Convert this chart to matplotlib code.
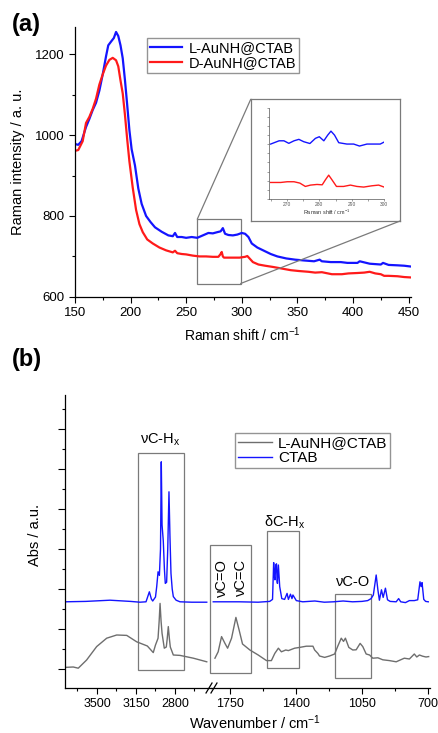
import matplotlib
matplotlib.use('Agg')
import matplotlib.pyplot as plt
from matplotlib.patches import Rectangle, ConnectionPatch
from matplotlib.ticker import MultipleLocator, NullFormatter

plt.rcParams['font.family'] = ['Liberation Sans', 'DejaVu Sans']
plt.rcParams['mathtext.default'] = 'regular'
plt.rcParams['font.size'] = 9

# ---- (a) Raman spectra ----
shift_L = [150, 153, 156, 160, 163, 166, 169, 172, 175, 178, 180, 183, 185, 187, 189, 191,
           193, 195, 197, 199, 201, 204, 207, 210, 214, 218, 222, 228, 234, 238, 240, 242,
           246, 250, 255, 260, 265, 270, 274, 278, 281, 283, 285, 288, 292, 296, 300, 303,
           306, 309, 314, 320, 326, 332, 340, 348, 356, 365, 370, 372, 380, 389, 395, 404,
           406, 415, 425, 427, 432, 440, 446, 452]
int_L = [978, 976, 985, 1020, 1040, 1062, 1080, 1110, 1150, 1195, 1222, 1233, 1240, 1255, 1245, 1222,
         1190, 1136, 1075, 1012, 965, 925, 868, 830, 800, 785, 772, 761, 752, 750, 758, 748,
         748, 746, 748, 746, 752, 758, 757, 760, 762, 770, 756, 753, 752, 754, 758, 756,
         748, 732, 722, 714, 706, 700, 695, 692, 690, 688, 692, 688, 686, 686, 684, 684,
         688, 682, 680, 684, 679, 678, 677, 675]

shift_D = [150, 153, 157, 160, 163, 166, 169, 172, 175, 178, 181, 184, 187, 189, 191, 193,
           195, 197, 199, 202, 205, 208, 211, 215, 220, 226, 232, 238, 240, 242, 246, 250,
           256, 262, 268, 274, 279, 281, 282, 283, 284, 288, 292, 298, 303, 305, 307, 310,
           315, 321, 328, 336, 344, 351, 360, 366, 372, 381, 390, 396, 404, 410, 415, 420,
           425, 428, 432, 440, 446, 452]
int_D = [961, 963, 985, 1030, 1045, 1065, 1090, 1125, 1150, 1172, 1186, 1191, 1185, 1170, 1135, 1103,
         1050, 990, 935, 870, 815, 780, 760, 742, 732, 722, 715, 710, 714, 708, 706, 705,
         702, 700, 700, 699, 699, 706, 711, 700, 697, 697, 697, 697, 699, 701, 695, 686,
         680, 677, 674, 670, 666, 664, 662, 660, 661, 656, 656, 658, 659, 660, 662, 658,
         656, 652, 652, 651, 649, 648]

# inset (zoomed 265-300 cm-1, arbitrary offset units)
ins_shift_L = [265, 267.6, 269.1, 270.6, 272.2, 273.7, 275.2, 277.1, 278.8, 280, 281.4, 282.6,
               283.6, 284.7, 286, 288.5, 290.6, 292.4, 294.7, 296.7, 298.8, 300]
ins_L = [6.04, 6.4, 6.4, 6.12, 6.4, 6.56, 6.3, 6.1, 6.67, 6.85, 6.4, 7.03,
         7.47, 7.03, 6.19, 6.04, 6.04, 5.82, 6.04, 6.04, 6.04, 6.26]
ins_shift_D = [265, 268.1, 270.1, 272.2, 274, 275.7, 277.3, 279.3, 280.9, 281.9, 282.9, 283.9,
               285.3, 287.5, 289.6, 291.6, 293.7, 296.2, 298.3, 300]
ins_D = [1.79, 1.79, 1.87, 1.87, 1.72, 1.35, 1.5, 1.57, 1.53, 2.09, 2.6, 2.09,
         1.35, 1.35, 1.5, 1.35, 1.28, 1.42, 1.5, 1.28]

# ---- (b) IR spectra, high and low wavenumber windows ----
wn_hi_ctab = [3787, 3600, 3383, 3200, 3114, 3060, 3030, 3012, 3000, 2975, 2964, 2952, 2940, 2930,
              2923, 2916, 2905, 2895, 2887, 2875, 2865, 2854, 2845, 2836, 2825, 2815, 2790, 2755,
              2650, 2515]
abs_hi_ctab = [1.68, 1.69, 1.72, 1.69, 1.67, 1.68, 1.93, 1.75, 1.70, 1.80, 2.06, 2.43, 2.34, 3.0,
               5.18, 3.6, 3.2, 2.5, 2.14, 2.17, 3.0, 4.43, 3.3, 2.39, 2.0, 1.81, 1.72, 1.68,
               1.67, 1.67]
wn_hi_np = [3787, 3713, 3668, 3593, 3503, 3413, 3323, 3233, 3144, 3048, 2995, 2975, 2964, 2952,
            2942, 2934, 2925, 2916, 2896, 2878, 2870, 2860, 2850, 2842, 2815, 2755, 2635, 2515]
abs_hi_np = [0.04, 0.05, 0.02, 0.225, 0.56, 0.77, 0.85, 0.84, 0.68, 0.575, 0.41, 0.6, 0.68, 0.77,
             1.2, 1.64, 1.2, 0.89, 0.52, 0.55, 0.75, 1.06, 0.75, 0.55, 0.35, 0.34, 0.27, 0.18]

wn_lo_ctab = [1838, 1700, 1600, 1539, 1524, 1518, 1514, 1511, 1507, 1503, 1500, 1498, 1493, 1486,
              1475, 1460, 1447, 1440, 1429, 1421, 1416, 1398, 1364, 1300, 1250, 1200, 1150, 1100,
              1050, 1020, 1002, 990, 975, 966, 958, 947, 938, 926, 915, 901, 869, 856,
              845, 820, 799, 773, 755, 743, 737, 732, 723, 713, 699]
abs_lo_ctab = [1.68, 1.68, 1.67, 1.69, 1.74, 2.66, 2.3, 2.23, 2.6, 2.63, 2.2, 2.14, 2.6, 2.06,
               1.76, 1.74, 1.89, 1.74, 1.87, 1.76, 1.85, 1.71, 1.68, 1.70, 1.67, 1.68, 1.70, 1.68,
               1.69, 1.71, 1.76, 1.85, 2.35, 1.98, 1.72, 1.98, 1.79, 2.02, 1.73, 1.69, 1.68, 1.76,
               1.68, 1.66, 1.71, 1.71, 1.73, 2.18, 2.06, 2.16, 1.74, 1.69, 1.68]
wn_lo_np = [1829, 1812, 1794, 1776, 1762, 1741, 1718, 1701, 1683, 1644, 1600, 1556, 1530, 1512,
            1493, 1477, 1454, 1440, 1407, 1380, 1345, 1310, 1301, 1284, 1275, 1248, 1222, 1195,
            1178, 1160, 1148, 1138, 1120, 1099, 1081, 1060, 1046, 1028, 1010, 993, 966, 940,
            905, 869, 826, 799, 773, 760, 746, 729, 711, 697]
abs_lo_np = [0.27, 0.43, 0.81, 0.64, 0.52, 0.77, 1.29, 0.975, 0.625, 0.475, 0.35, 0.21, 0.21, 0.39,
             0.52, 0.43, 0.475, 0.46, 0.52, 0.54, 0.57, 0.57, 0.475, 0.39, 0.325, 0.29, 0.325, 0.375,
             0.575, 0.77, 0.69, 0.77, 0.54, 0.475, 0.48, 0.64, 0.56, 0.375, 0.35, 0.27, 0.28, 0.23,
             0.21, 0.18, 0.27, 0.25, 0.375, 0.3, 0.35, 0.32, 0.3, 0.31]

BLUE = '#1414ff'
RED = '#ff1a1a'
GREY = '#6e6e6e'
BOX = '#7a7a7a'

fig = plt.figure(figsize=(4.38, 7.33), dpi=100)

def style_ticks(ax, size=9.5):
    ax.tick_params(which='major', direction='out', length=4, width=0.8, labelsize=size)
    ax.tick_params(which='minor', direction='out', length=2.5, width=0.8)
    for s in ax.spines.values():
        s.set_linewidth(0.9)

# ---------------- panel (a) ----------------
ax_a = fig.add_axes([0.171, 0.595, 0.767, 0.368])
ax_a.plot(shift_L, int_L, color=BLUE, lw=1.6, label='L-AuNH@CTAB')
ax_a.plot(shift_D, int_D, color=RED, lw=1.6, label='D-AuNH@CTAB')
ax_a.set_xlim(150, 452)
ax_a.set_ylim(600, 1267)
ax_a.xaxis.set_major_locator(MultipleLocator(50))
ax_a.xaxis.set_minor_locator(MultipleLocator(25))
ax_a.yaxis.set_major_locator(MultipleLocator(200))
ax_a.yaxis.set_minor_locator(MultipleLocator(100))
ax_a.spines['top'].set_visible(False)
ax_a.spines['right'].set_visible(False)
style_ticks(ax_a)
ax_a.set_xlabel('Raman shift / cm$^{-1}$', fontsize=10)
ax_a.set_ylabel('Raman intensity / a. u.', fontsize=10.5)
ax_a.xaxis.set_label_coords(0.5, -0.105)
ax_a.yaxis.set_label_coords(-0.15, 0.5)
ax_a.legend(loc='upper left', bbox_to_anchor=(0.216, 0.96), fontsize=10.5, frameon=True,
            fancybox=False, edgecolor=BOX, handlelength=2.2, borderpad=0.2,
            labelspacing=0.1, handletextpad=0.4, borderaxespad=0)

# zoom rectangle
zx0, zx1, zy0, zy1 = 260, 299, 633, 792
ax_a.add_patch(Rectangle((zx0, zy0), zx1 - zx0, zy1 - zy0, fill=False, ec=BOX, lw=0.9))

# inset frame and inset axes
ax_box = fig.add_axes([0.5724, 0.6985, 0.341, 0.166])
ax_box.set_xticks([])
ax_box.set_yticks([])
for s in ax_box.spines.values():
    s.set_edgecolor(BOX)
    s.set_linewidth(0.9)

ax_in = fig.add_axes([0.615, 0.729, 0.262, 0.1233])
ax_in.plot(ins_shift_L, ins_L, color=BLUE, lw=1.0)
ax_in.plot(ins_shift_D, ins_D, color=RED, lw=1.0)
ax_in.set_xlim(264.6, 300)
ax_in.set_ylim(0, 10)
ax_in.xaxis.set_major_locator(MultipleLocator(10))
ax_in.xaxis.set_minor_locator(MultipleLocator(5))
ax_in.yaxis.set_major_locator(MultipleLocator(2))
ax_in.yaxis.set_minor_locator(MultipleLocator(1))
ax_in.yaxis.set_major_formatter(NullFormatter())
ax_in.spines['top'].set_visible(False)
ax_in.spines['right'].set_visible(False)
for s in ax_in.spines.values():
    s.set_linewidth(0.5)
    s.set_color('#555555')
ax_in.tick_params(which='both', direction='out', length=1.2, width=0.4, labelsize=3.5,
                  pad=1, colors='#555555')
ax_in.set_xlabel('Raman shift / cm$^{-1}$', fontsize=4, labelpad=1, color='#333333')

for xa, xb in [((zx0, zy1), (0, 1)), ((zx1, zy0), (1, 0))]:
    con = ConnectionPatch(xyA=xa, coordsA=ax_a.transData, xyB=xb, coordsB=ax_box.transAxes,
                          color=BOX, lw=0.9)
    fig.add_artist(con)

fig.text(0.027, 0.966, '(a)', fontsize=17, fontweight='bold', va='center')

# ---------------- panel (b) ----------------
ax_l = fig.add_axes([0.1484, 0.0614, 0.3333, 0.3997])
ax_r = fig.add_axes([0.4817, 0.0614, 0.5, 0.3997])

ax_l.plot(wn_hi_np, abs_hi_np, color=GREY, lw=1.0)
ax_l.plot(wn_hi_ctab, abs_hi_ctab, color=BLUE, lw=1.0)
ax_r.plot(wn_lo_np, abs_lo_np, color=GREY, lw=1.0, label='L-AuNH@CTAB')
ax_r.plot(wn_lo_ctab, abs_lo_ctab, color=BLUE, lw=1.0, label='CTAB')

ax_l.set_xlim(3787, 2477)
ax_r.set_xlim(1850, 690)
for ax in (ax_l, ax_r):
    ax.set_ylim(-0.475, 6.85)
    ax.spines['top'].set_visible(False)
    ax.spines['right'].set_visible(False)
    ax.patch.set_alpha(0)
    style_ticks(ax, size=9)
    ax.xaxis.set_major_locator(MultipleLocator(350))
    ax.xaxis.set_minor_locator(MultipleLocator(175))
ax_l.yaxis.set_major_locator(MultipleLocator(1))
ax_l.yaxis.set_minor_locator(MultipleLocator(0.5))
ax_l.yaxis.set_major_formatter(NullFormatter())
ax_l.tick_params(axis='y', which='major', length=5)
ax_r.spines['left'].set_visible(False)
ax_r.set_yticks([])
ax_l.set_xticks([3500, 3150, 2800])
ax_r.set_xticks([1750, 1400, 1050, 700])

ax_l.set_ylabel('Abs / a.u.', fontsize=10.5)
ax_l.yaxis.set_label_coords(-0.16, 0.522)
fig.text(0.582, 0.002, 'Wavenumber / cm$^{-1}$', fontsize=10.5, ha='center', va='bottom')

# axis break marks
for off in (0.0, 0.034):
    ax_l.plot([0.966 + off, 1.007 + off], [-0.017, 0.017], color='k', lw=0.9,
              transform=ax_l.transAxes, clip_on=False)

# band boxes and labels
ax_l.add_patch(Rectangle((3129, -0.025), 2716 - 3129, 5.39 + 0.025, fill=False, ec=BOX, lw=0.9))
ax_l.text(2934, 5.72, 'νC-H$_x$', fontsize=10.5, ha='center', va='center')
ax_r.add_patch(Rectangle((1855, -0.09), 1639 - 1855, 3.1 + 0.09, fill=False, ec=BOX, lw=0.9,
                         clip_on=False))
ax_r.text(1792, 2.28, 'νC=O', fontsize=10.5, rotation=90, ha='center', va='center')
ax_r.text(1692, 2.28, 'νC=C', fontsize=10.5, rotation=90, ha='center', va='center')
ax_r.add_patch(Rectangle((1551, 0.02), 1385 - 1551, 3.46 - 0.02, fill=False, ec=BOX, lw=0.9))
ax_r.text(1460, 3.66, 'δC-H$_x$', fontsize=10.5, ha='center', va='center')
ax_r.add_patch(Rectangle((1192, -0.23), 1001 - 1192, 1.875 + 0.23, fill=False, ec=BOX, lw=0.9))
ax_r.text(1098, 2.17, 'νC-O', fontsize=10.5, ha='center', va='center')

ax_r.legend(loc='upper left', bbox_to_anchor=(0.11, 0.871), fontsize=11, frameon=True,
            fancybox=False, edgecolor=BOX, handlelength=2.2, borderpad=0.2,
            labelspacing=0.1, handletextpad=0.4, borderaxespad=0)

fig.text(0.027, 0.509, '(b)', fontsize=17, fontweight='bold', va='center')

fig.savefig('out.png', dpi=100)
